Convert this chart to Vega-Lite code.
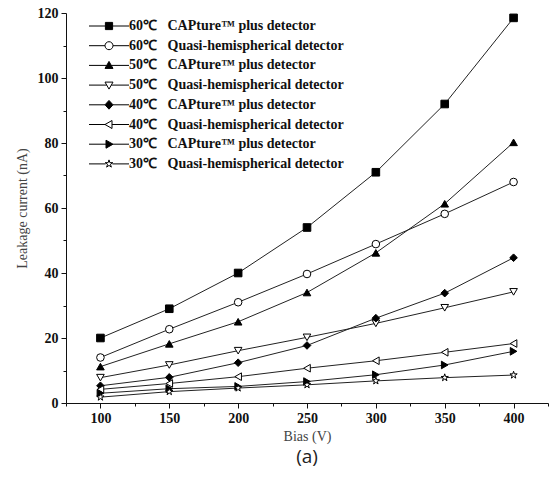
{
  "$schema": "https://vega.github.io/schema/vega-lite/v6.json",
  "width": 482,
  "height": 390,
  "autosize": "none",
  "padding": {"left": 66, "top": 13, "right": 4, "bottom": 74},
  "background": "white",
  "title": {"text": "(a)", "orient": "bottom", "anchor": "middle", "font": "Open Sans", "fontSize": 19, "fontWeight": "normal", "color": "#222", "offset": 5},
  "datasets": {"pts": [
    {"bias": 100, "current": 20, "series": "60℃ \u2002CAPture™ plus detector"},
    {"bias": 150, "current": 29, "series": "60℃ \u2002CAPture™ plus detector"},
    {"bias": 200, "current": 40, "series": "60℃ \u2002CAPture™ plus detector"},
    {"bias": 250, "current": 54, "series": "60℃ \u2002CAPture™ plus detector"},
    {"bias": 300, "current": 71, "series": "60℃ \u2002CAPture™ plus detector"},
    {"bias": 350, "current": 92, "series": "60℃ \u2002CAPture™ plus detector"},
    {"bias": 400, "current": 118.5, "series": "60℃ \u2002CAPture™ plus detector"},
    {"bias": 100, "current": 14, "series": "60℃ \u2002Quasi-hemispherical detector"},
    {"bias": 150, "current": 22.7, "series": "60℃ \u2002Quasi-hemispherical detector"},
    {"bias": 200, "current": 31, "series": "60℃ \u2002Quasi-hemispherical detector"},
    {"bias": 250, "current": 39.7, "series": "60℃ \u2002Quasi-hemispherical detector"},
    {"bias": 300, "current": 48.9, "series": "60℃ \u2002Quasi-hemispherical detector"},
    {"bias": 350, "current": 58.2, "series": "60℃ \u2002Quasi-hemispherical detector"},
    {"bias": 400, "current": 68, "series": "60℃ \u2002Quasi-hemispherical detector"},
    {"bias": 100, "current": 11.2, "series": "50℃ \u2002CAPture™ plus detector"},
    {"bias": 150, "current": 18.2, "series": "50℃ \u2002CAPture™ plus detector"},
    {"bias": 200, "current": 25, "series": "50℃ \u2002CAPture™ plus detector"},
    {"bias": 250, "current": 34, "series": "50℃ \u2002CAPture™ plus detector"},
    {"bias": 300, "current": 46.2, "series": "50℃ \u2002CAPture™ plus detector"},
    {"bias": 350, "current": 61.3, "series": "50℃ \u2002CAPture™ plus detector"},
    {"bias": 400, "current": 80.2, "series": "50℃ \u2002CAPture™ plus detector"},
    {"bias": 100, "current": 7.8, "series": "50℃ \u2002Quasi-hemispherical detector"},
    {"bias": 150, "current": 11.7, "series": "50℃ \u2002Quasi-hemispherical detector"},
    {"bias": 200, "current": 16.1, "series": "50℃ \u2002Quasi-hemispherical detector"},
    {"bias": 250, "current": 20.2, "series": "50℃ \u2002Quasi-hemispherical detector"},
    {"bias": 300, "current": 24.5, "series": "50℃ \u2002Quasi-hemispherical detector"},
    {"bias": 350, "current": 29.3, "series": "50℃ \u2002Quasi-hemispherical detector"},
    {"bias": 400, "current": 34.2, "series": "50℃ \u2002Quasi-hemispherical detector"},
    {"bias": 100, "current": 5.3, "series": "40℃ \u2002CAPture™ plus detector"},
    {"bias": 150, "current": 7.9, "series": "40℃ \u2002CAPture™ plus detector"},
    {"bias": 200, "current": 12.4, "series": "40℃ \u2002CAPture™ plus detector"},
    {"bias": 250, "current": 17.7, "series": "40℃ \u2002CAPture™ plus detector"},
    {"bias": 300, "current": 26.1, "series": "40℃ \u2002CAPture™ plus detector"},
    {"bias": 350, "current": 33.8, "series": "40℃ \u2002CAPture™ plus detector"},
    {"bias": 400, "current": 44.7, "series": "40℃ \u2002CAPture™ plus detector"},
    {"bias": 100, "current": 4.2, "series": "40℃ \u2002Quasi-hemispherical detector"},
    {"bias": 150, "current": 6, "series": "40℃ \u2002Quasi-hemispherical detector"},
    {"bias": 200, "current": 8.1, "series": "40℃ \u2002Quasi-hemispherical detector"},
    {"bias": 250, "current": 10.7, "series": "40℃ \u2002Quasi-hemispherical detector"},
    {"bias": 300, "current": 13, "series": "40℃ \u2002Quasi-hemispherical detector"},
    {"bias": 350, "current": 15.6, "series": "40℃ \u2002Quasi-hemispherical detector"},
    {"bias": 400, "current": 18.3, "series": "40℃ \u2002Quasi-hemispherical detector"},
    {"bias": 100, "current": 3, "series": "30℃ \u2002CAPture™ plus detector"},
    {"bias": 150, "current": 4.4, "series": "30℃ \u2002CAPture™ plus detector"},
    {"bias": 200, "current": 5.1, "series": "30℃ \u2002CAPture™ plus detector"},
    {"bias": 250, "current": 6.6, "series": "30℃ \u2002CAPture™ plus detector"},
    {"bias": 300, "current": 8.7, "series": "30℃ \u2002CAPture™ plus detector"},
    {"bias": 350, "current": 11.7, "series": "30℃ \u2002CAPture™ plus detector"},
    {"bias": 400, "current": 15.9, "series": "30℃ \u2002CAPture™ plus detector"},
    {"bias": 100, "current": 1.8, "series": "30℃ \u2002Quasi-hemispherical detector"},
    {"bias": 150, "current": 3.5, "series": "30℃ \u2002Quasi-hemispherical detector"},
    {"bias": 200, "current": 4.6, "series": "30℃ \u2002Quasi-hemispherical detector"},
    {"bias": 250, "current": 5.6, "series": "30℃ \u2002Quasi-hemispherical detector"},
    {"bias": 300, "current": 6.8, "series": "30℃ \u2002Quasi-hemispherical detector"},
    {"bias": 350, "current": 7.8, "series": "30℃ \u2002Quasi-hemispherical detector"},
    {"bias": 400, "current": 8.6, "series": "30℃ \u2002Quasi-hemispherical detector"}
  ]},
  "data": {"name": "pts"},
  "layer": [
    {
      "mark": {"type": "line", "color": "#222", "strokeWidth": 1},
      "encoding": {
        "x": {"field": "bias", "type": "quantitative", "scale": {"domain": [75, 425], "nice": false},
              "axis": {"values": [100, 150, 200, 250, 300, 350, 400], "title": "Bias (V)", "orient": "bottom"}},
        "y": {"field": "current", "type": "quantitative", "scale": {"domain": [0, 120], "nice": false},
              "axis": {"values": [0, 20, 40, 60, 80, 100, 120], "title": "Leakage current (nA)", "orient": "left"}},
        "detail": {"field": "series", "type": "nominal"}
      }
    },
    {
      "mark": {"type": "point", "filled": true, "stroke": "black", "strokeWidth": 1, "size": 58, "opacity": 1},
      "encoding": {
        "x": {"field": "bias", "type": "quantitative",
              "axis": {"values": [75, 125, 175, 225, 275, 325, 375, 425], "labels": false, "domain": false, "tickSize": 3, "title": null, "orient": "bottom"}},
        "y": {"field": "current", "type": "quantitative",
              "axis": {"values": [10, 30, 50, 70, 90, 110], "labels": false, "domain": false, "tickSize": 3, "title": null, "orient": "left"}},
        "shape": {"field": "series", "type": "nominal", "legend": null,
          "scale": {
            "domain": ["60℃ \u2002CAPture™ plus detector", "60℃ \u2002Quasi-hemispherical detector", "50℃ \u2002CAPture™ plus detector", "50℃ \u2002Quasi-hemispherical detector", "40℃ \u2002CAPture™ plus detector", "40℃ \u2002Quasi-hemispherical detector", "30℃ \u2002CAPture™ plus detector", "30℃ \u2002Quasi-hemispherical detector"],
            "range": ["square", "circle", "triangle-up", "triangle-down", "diamond", "triangle-left", "triangle-right", "M0,-1L0.223,-0.307L0.951,-0.309L0.361,0.117L0.588,0.809L0,0.38L-0.588,0.809L-0.361,0.117L-0.951,-0.309L-0.223,-0.307Z"]
          }
        },
        "fill": {"field": "series", "type": "nominal", "legend": null,
          "scale": {
            "domain": ["60℃ \u2002CAPture™ plus detector", "60℃ \u2002Quasi-hemispherical detector", "50℃ \u2002CAPture™ plus detector", "50℃ \u2002Quasi-hemispherical detector", "40℃ \u2002CAPture™ plus detector", "40℃ \u2002Quasi-hemispherical detector", "30℃ \u2002CAPture™ plus detector", "30℃ \u2002Quasi-hemispherical detector"],
            "range": ["black", "white", "black", "white", "black", "white", "black", "white"]
          }
        }
      }
    },
    {
      "mark": {"type": "point", "filled": false, "color": "black", "strokeWidth": 1, "size": 64, "opacity": 0},
      "encoding": {
        "x": {"field": "bias", "type": "quantitative", "axis": null},
        "y": {"field": "current", "type": "quantitative", "axis": null},
        "shape": {"field": "series", "type": "nominal",
          "scale": {
            "domain": ["60℃ \u2002CAPture™ plus detector", "60℃ \u2002Quasi-hemispherical detector", "50℃ \u2002CAPture™ plus detector", "50℃ \u2002Quasi-hemispherical detector", "40℃ \u2002CAPture™ plus detector", "40℃ \u2002Quasi-hemispherical detector", "30℃ \u2002CAPture™ plus detector", "30℃ \u2002Quasi-hemispherical detector"],
            "range": [
              "M-5,0H-0.9M0.9,0H5M-0.9,-0.9H0.9V0.9H-0.9Z",
              "M-5,0H-1M1,0H5M-1,0A1,1 0 1,0 1,0A1,1 0 1,0 -1,0Z",
              "M-5,0H-0.57M0.57,0H5M0,-1L1,0.75L-1,0.75Z",
              "M-5,0H-0.57M0.57,0H5M0,1L1,-0.75L-1,-0.75Z",
              "M-5,0H-1M1,0H5M0,-1.1L1,0L0,1.1L-1,0Z",
              "M-5,0H-1M0.75,0H5M-1,0L0.75,-1L0.75,1Z",
              "M-5,0H-0.75M1,0H5M1,0L-0.75,-1L-0.75,1Z",
              "M-5,0H-0.85M0.85,0H5M0,-1L0.223,-0.307L0.951,-0.309L0.361,0.117L0.588,0.809L0,0.38L-0.588,0.809L-0.361,0.117L-0.951,-0.309L-0.223,-0.307Z"
            ]
          },
          "legend": {
            "title": null,
            "orient": "none",
            "legendX": 36,
            "legendY": 6,
            "padding": 0,
            "symbolSize": 64,
            "symbolStrokeColor": "black",
            "symbolStrokeWidth": 1,
            "symbolOpacity": 1,
            "labelFont": "Liberation Serif",
            "labelFontSize": 14,
            "labelFontWeight": "bold",
            "labelColor": "#111",
            "labelOffset": 13,
            "labelLimit": 400,
            "rowPadding": 5.7,
            "encode": {"symbols": {"update": {"stroke": {"value": "black"}, "strokeWidth": {"value": 1}, "opacity": {"value": 1}}}}
          }
        },
        "fill": {"field": "series", "type": "nominal",
          "scale": {
            "domain": ["60℃ \u2002CAPture™ plus detector", "60℃ \u2002Quasi-hemispherical detector", "50℃ \u2002CAPture™ plus detector", "50℃ \u2002Quasi-hemispherical detector", "40℃ \u2002CAPture™ plus detector", "40℃ \u2002Quasi-hemispherical detector", "30℃ \u2002CAPture™ plus detector", "30℃ \u2002Quasi-hemispherical detector"],
            "range": ["black", "white", "black", "white", "black", "white", "black", "white"]
          },
          "legend": {
            "title": null,
            "orient": "none",
            "legendX": 36,
            "legendY": 6,
            "padding": 0,
            "symbolSize": 64,
            "symbolStrokeColor": "black",
            "symbolStrokeWidth": 1,
            "symbolOpacity": 1,
            "labelFont": "Liberation Serif",
            "labelFontSize": 14,
            "labelFontWeight": "bold",
            "labelColor": "#111",
            "labelOffset": 13,
            "labelLimit": 400,
            "rowPadding": 5.7,
            "encode": {"symbols": {"update": {"stroke": {"value": "black"}, "strokeWidth": {"value": 1}, "opacity": {"value": 1}}}}
          }
        }
      }
    }
  ],
  "resolve": {
    "axis": {"x": "independent", "y": "independent"},
    "scale": {"shape": "independent", "fill": "independent"},
    "legend": {"shape": "independent", "fill": "independent"}
  },
  "config": {
    "view": {"stroke": null},
    "legend": {"symbolStrokeColor": "black", "symbolStrokeWidth": 1},
    "axis": {
      "grid": false,
      "domainColor": "#111",
      "domainWidth": 1,
      "tickColor": "#111",
      "tickWidth": 1,
      "tickSize": 5,
      "labelFont": "Liberation Serif",
      "labelFontSize": 14,
      "labelFontWeight": "bold",
      "labelColor": "#111",
      "labelPadding": 3,
      "titleFont": "Liberation Serif",
      "titleFontSize": 14,
      "titleFontWeight": "normal",
      "titleColor": "#444"
    },
    "axisX": {"titlePadding": 4},
    "axisY": {"titlePadding": 8}
  }
}
